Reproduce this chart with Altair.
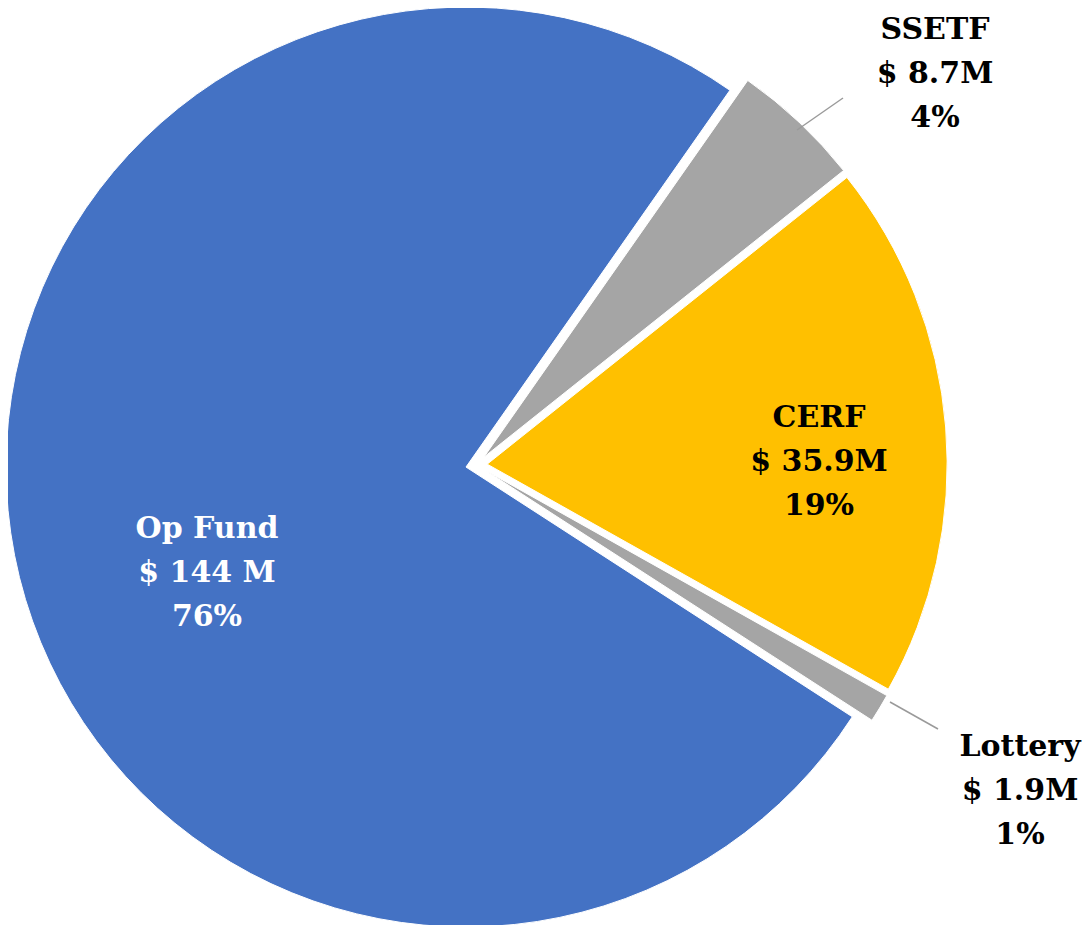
import altair as alt
import pandas as pd

categories = ["SSETF", "CERF", "Lottery", "Op Fund"]
values = [8.7, 35.9, 1.9, 144.0]
colors = ["#A5A5A5", "#FFC000", "#A5A5A5", "#4472C4"]
amount_labels = ["$ 8.7M", "$ 35.9M", "$ 1.9M", "$ 144 M"]
pct_labels = ["4%", "19%", "1%", "76%"]
text_colors = ["black", "black", "black", "white"]

START = 0.611          # start angle (radians, clockwise from 12 o'clock)
CX, CY = 468.5, 457    # pie center in plot pixels
EXPLODE = 10.7
R = 460

df = pd.DataFrame({
    "category": categories,
    "value": values,
    "order": list(range(len(categories))),
    "label": [f"{c}\n{a}\n{p}" for c, a, p in zip(categories, amount_labels, pct_labels)],
})

arcs = (
    alt.Chart(df)
    .transform_joinaggregate(total="sum(value)")
    .transform_window(cum="sum(value)", sort=[alt.SortField("order")], frame=[None, 0])
    .transform_calculate(
        t0=f"{START} + 2*PI*(datum.cum - datum.value)/datum.total",
        t1=f"{START} + 2*PI*datum.cum/datum.total",
    )
    .transform_calculate(mid="(datum.t0 + datum.t1)/2")
    .transform_calculate(
        cx=f"{CX} + {EXPLODE}*sin(datum.mid)",
        cy=f"{CY} - {EXPLODE}*cos(datum.mid)",
    )
    .mark_arc(outerRadius=R, stroke="white", strokeWidth=1)
    .encode(
        theta=alt.Theta("t0:Q", scale=None),
        theta2="t1:Q",
        x=alt.X("cx:Q", scale=None),
        y=alt.Y("cy:Q", scale=None),
        color=alt.Color("category:N", scale=alt.Scale(domain=categories, range=colors), legend=None),
    )
)

label_pos = {
    "SSETF": (927, 31),
    "CERF": (811, 419),
    "Lottery": (1012, 748),
    "Op Fund": (199, 530),
}

layers = [arcs]

# leader lines
leader = alt.Chart(df).transform_filter(alt.datum.category == "SSETF").mark_rule(
    color="#9A9A9A", strokeWidth=1.5
).encode(x=alt.value(789), y=alt.value(122), x2=alt.value(835), y2=alt.value(90))
leader2 = alt.Chart(df).transform_filter(alt.datum.category == "Lottery").mark_rule(
    color="#9A9A9A", strokeWidth=1.5
).encode(x=alt.value(882), y=alt.value(694), x2=alt.value(930), y2=alt.value(721))
layers += [leader, leader2]

for cat, tc in zip(categories, text_colors):
    px, py = label_pos[cat]
    t = (
        alt.Chart(df)
        .transform_filter(alt.datum.category == cat)
        .mark_text(
            font="DejaVu Serif", fontWeight="bold", fontSize=30,
            lineBreak="\n", lineHeight=44, align="center", baseline="alphabetic",
            color=tc,
        )
        .encode(x=alt.value(px), y=alt.value(py), text="label:N")
    )
    layers.append(t)

chart = (
    alt.layer(*layers)
    .properties(width=1075, height=917, padding=0, autosize=alt.AutoSizeParams(type="none"))
    .configure_view(stroke=None)
)

chart.save("out.html", embed_options={"renderer": "svg", "actions": False})
